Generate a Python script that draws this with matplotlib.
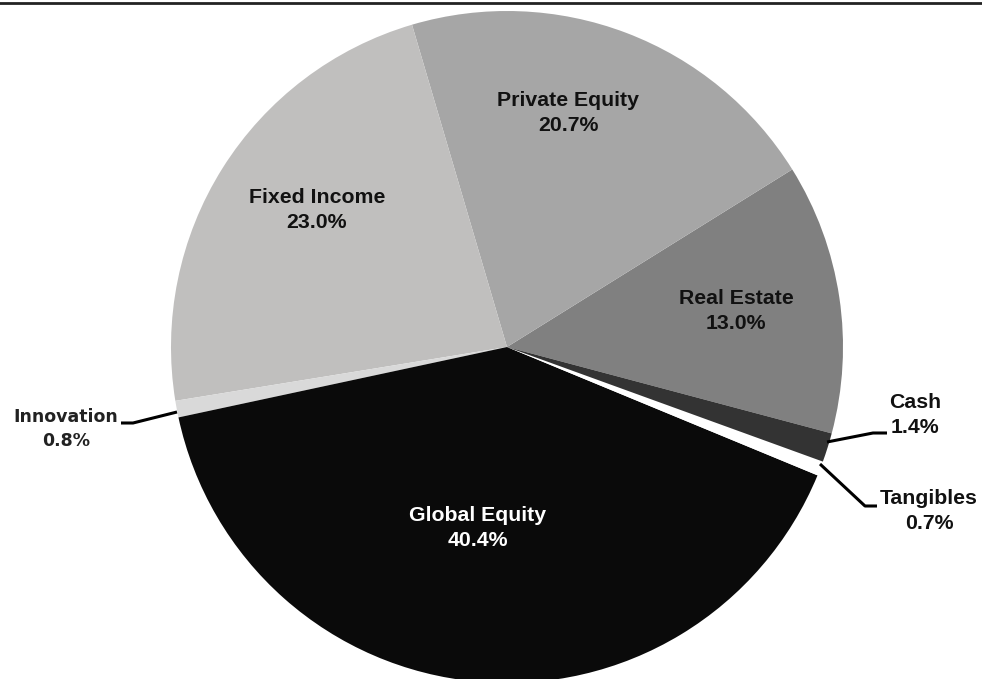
import matplotlib.pyplot as plt

# slice order runs counter-clockwise starting at Real Estate
labels = ['Real Estate', 'Private Equity', 'Fixed Income', 'Innovation',
          'Global Equity', 'Tangibles', 'Cash']
values = [13.0, 20.7, 23.0, 0.8, 40.4, 0.7, 1.4]
colors = ['#808080', '#a6a6a6', '#c0bfbe', '#d9d9d9', '#0a0a0a', '#ffffff', '#333333']

W, H = 982, 679
cx, cy, r = 507, H - 347, 336

fig = plt.figure(figsize=(9.82, 6.79), dpi=100)
ax = fig.add_axes([0, 0, 1, 1])

start = -14.9
ax.pie(values, colors=colors, startangle=start, counterclock=True,
       center=(cx, cy), radius=r, frame=True,
       wedgeprops=dict(linewidth=0))
ax.set_xlim(0, W)
ax.set_ylim(0, H)
ax.set_aspect('equal')
ax.axis('off')

font = ['Liberation Sans', 'DejaVu Sans']
fs = 15.3

def txt(x, y, s, color='#111111', family=font, size=fs, ls=1.38):
    ax.text(x, H - y, s, ha='center', va='center', fontsize=size,
            fontweight='bold', color=color, family=family, linespacing=ls)

# inside labels
txt(568, 113, 'Private Equity\n20.7%')
txt(317, 210, 'Fixed Income\n23.0%')
txt(736, 311, 'Real Estate\n13.0%')
txt(478, 528, 'Global Equity\n40.4%', color='white')

# outside labels with leader lines
txt(915, 415, 'Cash\n1.4%')
txt(929, 511, 'Tangibles\n0.7%')
txt(66, 429, 'Innovation\n0.8%', color='#222222', family=['DejaVu Sans'], size=12.5, ls=1.5)

def leader(pts):
    xs = [p[0] for p in pts]
    ys = [H - p[1] for p in pts]
    ax.plot(xs, ys, color='black', linewidth=2.2, solid_capstyle='butt')

leader([(827, 442), (873, 433), (887, 433)])
leader([(820, 464), (865, 506), (877, 506)])
leader([(177, 412), (133, 423), (121, 423)])

# top rule
ax.plot([0, W], [H - 3, H - 3], color='#222222', linewidth=2)

fig.savefig('out.png', dpi=100)
